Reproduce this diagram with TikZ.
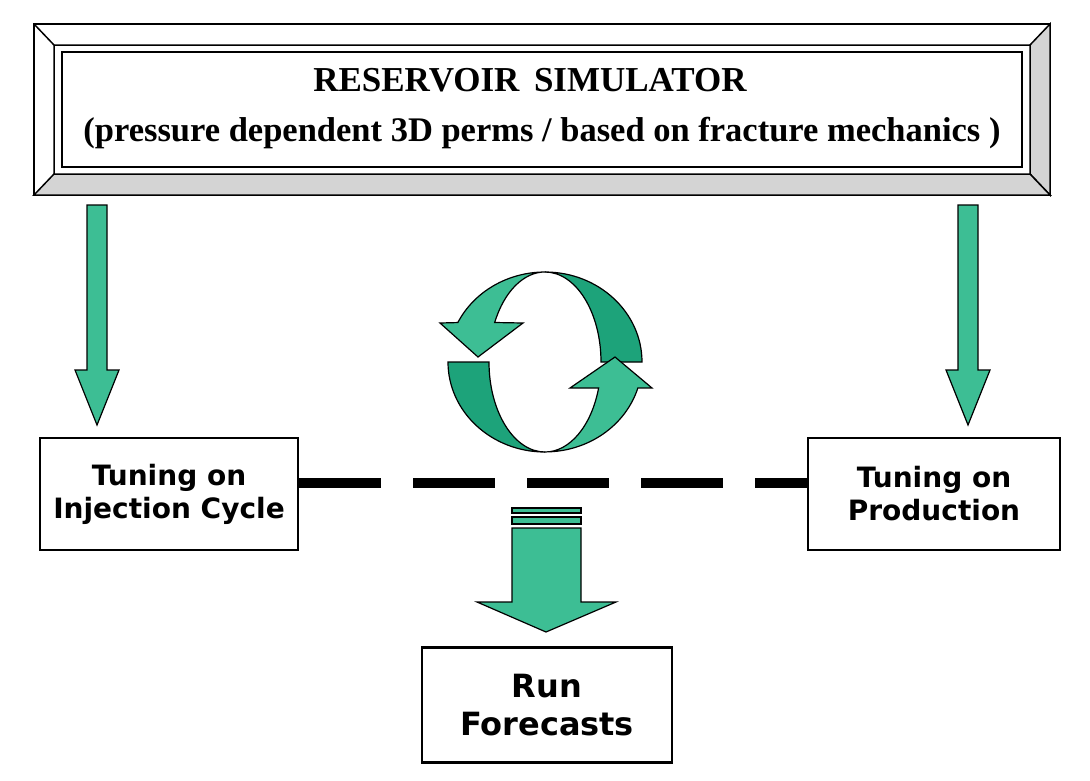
\documentclass[tikz,border=0pt]{standalone}
\usepackage{fontspec}
\setmainfont{Liberation Serif}
\newfontfamily\boxfont{DejaVu Sans}
\definecolor{lg}{HTML}{3DBE94}
\definecolor{dg}{HTML}{1DA37A}
\definecolor{bev}{HTML}{D4D4D4}
\begin{document}
\begin{tikzpicture}[x=1pt,y=-1pt,
  box/.style={draw,line width=2.5pt,fill=white,font=\boxfont\bfseries\fontsize{28}{33}\selectfont,align=center,inner sep=0},
  gar/.style={draw,line width=1.2pt,fill=lg,line join=miter},
  dar/.style={draw,line width=1.2pt,fill=dg}]
\useasboundingbox (0,0) rectangle (1090,780);
% bevel frame
\draw[line width=1.5pt,fill=white] (34,24) rectangle (1050,195);
\draw[line width=1.5pt,fill=bev] (1050,24) -- (1030,45) -- (1030,174) -- (1050,195) -- cycle;
\draw[line width=1.5pt,fill=bev] (34,195) -- (54,174) -- (1030,174) -- (1050,195) -- cycle;
\draw[line width=1.5pt] (34,24) -- (54,45) -- (1030,45) (54,45) -- (54,174);
\draw[line width=1.5pt] (62,52) rectangle (1022,167);
\node[font=\bfseries\fontsize{35}{40}\selectfont] (title) at (530,80) {RESERVOIR\, SIMULATOR};
\node[font=\bfseries\fontsize{34.5}{40}\selectfont] (sub) at (542,133) {(pressure dependent 3D perms / based on fracture mechanics )};
% side arrows
\draw[gar] (87,205) -- (107,205) -- (107,370) -- (119,370) -- (97,425) -- (75,370) -- (87,370) -- cycle;
\draw[gar] (958,205) -- (978,205) -- (978,370) -- (990,370) -- (968,425) -- (946,370) -- (958,370) -- cycle;
% boxes
\node[box,minimum width=258pt,minimum height=112pt] (inj) at (169,494) {Tuning on\\Injection Cycle};
\node[box,minimum width=252pt,minimum height=112pt] (prod) at (934,494) {Tuning on\\Production};
\node[box,minimum width=250pt,minimum height=115pt,font=\boxfont\bfseries\fontsize{32}{38}\selectfont] (run) at (547,705) {Run\\Forecasts};
% dashed link
\draw[line width=10pt,dash pattern=on 82pt off 32pt] (inj.east |- 0,483) -- (prod.west |- 0,483);
% circular arrows
\draw[dar] (448,362) arc[start angle=180,end angle=90,x radius=97,y radius=90] arc[start angle=90,end angle=180,x radius=56,y radius=90] -- cycle;
\draw[dar] (545,272) arc[start angle=270,end angle=360,x radius=97,y radius=90] -- (601,362) arc[start angle=0,end angle=-90,x radius=56,y radius=90] -- cycle;
\draw[gar] (545,272) arc[start angle=270,end angle=206,x radius=97,y radius=90] -- (440,323) -- (478,357) -- (523,323) -- (494.7,322.5) arc[start angle=206,end angle=270,x radius=56,y radius=90] -- cycle;
\draw[gar] (545,452) arc[start angle=90,end angle=16.8,x radius=56,y radius=90] -- (570,388) -- (615,357) -- (652,388) -- (637.9,387.9) arc[start angle=16.8,end angle=90,x radius=97,y radius=90] -- cycle;
% down arrow
\draw[gar] (512,508) rectangle (581,513);
\draw[gar] (512,517) rectangle (581,524);
\draw[gar] (512,528) -- (581,528) -- (581,602) -- (616,602) -- (546,632) -- (477,602) -- (512,602) -- cycle;
\end{tikzpicture}
\end{document}
